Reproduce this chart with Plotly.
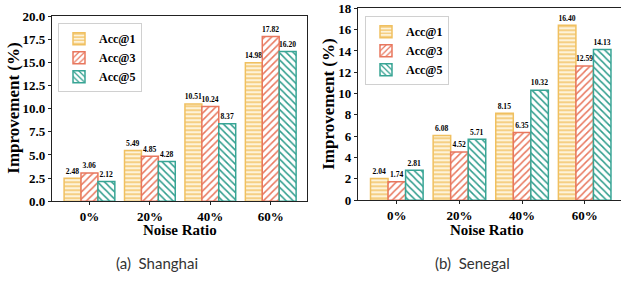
import plotly.graph_objects as go

categories = ["0%", "20%", "40%", "60%"]
series_names = ["Acc@1", "Acc@3", "Acc@5"]
shanghai_acc1 = [2.48, 5.49, 10.51, 14.98]
shanghai_acc3 = [3.06, 4.85, 10.24, 17.82]
shanghai_acc5 = [2.12, 4.28, 8.37, 16.20]
senegal_acc1 = [2.04, 6.08, 8.15, 16.40]
senegal_acc3 = [1.74, 4.52, 6.35, 12.59]
senegal_acc5 = [2.81, 5.71, 10.32, 14.13]
y_ticks_left = [0.0, 2.5, 5.0, 7.5, 10.0, 12.5, 15.0, 17.5, 20.0]
y_ticks_right = [0, 2, 4, 6, 8, 10, 12, 14, 16, 18]

SERIF = "Liberation Serif, Times New Roman, serif"
styles = [
    dict(edge="#F0C060", fg="#F3C66E", bg="#FDF3DA", shape="-", size=4, solidity=0.4),
    dict(edge="#E8775E", fg="#E8775E", bg="#FFFFFF", shape="/", size=5, solidity=0.3),
    dict(edge="#38A595", fg="#2E9C8C", bg="#FFFFFF", shape="\\", size=5, solidity=0.3),
]

fig = go.Figure()

def add_panel(values_list, xa, ya, legend):
    for name, vals, st in zip(series_names, values_list, styles):
        fig.add_trace(go.Bar(
            x=categories, y=vals, name=name, xaxis=xa, yaxis=ya, legend=legend,
            text=[f"{v:.2f}" for v in vals], textposition="outside",
            textfont=dict(family=SERIF, size=9, color="black", weight="bold"),
            cliponaxis=False,
            marker=dict(
                color=st["bg"],
                line=dict(color=st["edge"], width=1.5),
                pattern=dict(shape=st["shape"], fgcolor=st["fg"], bgcolor=st["bg"],
                             size=st["size"], solidity=st["solidity"], fillmode="replace"),
            ),
        ))

add_panel([shanghai_acc1, shanghai_acc3, shanghai_acc5], "x", "y", "legend")
add_panel([senegal_acc1, senegal_acc3, senegal_acc5], "x2", "y2", "legend2")

W, H = 621, 281
def px(x): return min(x / W, 1.0)
def py(y):
    ys = (y - 5.7) / 0.952
    return 1 - ys / H

axis_base = dict(showline=True, linecolor="#222", linewidth=1.2,
                 ticks="outside", ticklen=3, tickcolor="#222", showgrid=False, zeroline=False,
                 tickfont=dict(family=SERIF, size=13, color="black", weight="bold"))

legend_common = dict(xanchor="left", yanchor="top", bgcolor="white",
                     bordercolor="#d0d0d0", borderwidth=1,
                     font=dict(family=SERIF, size=12, color="black", weight="bold"),
                     itemwidth=30, tracegroupgap=0)

fig.update_layout(
    width=W, height=H, margin=dict(l=0, r=0, t=0, b=0),
    paper_bgcolor="white", plot_bgcolor="white",
    barmode="group", bargap=0.16, bargroupgap=0,
    uniformtext=dict(minsize=6, mode="show"),
    xaxis=dict(domain=[px(52), px(307)], range=[-0.62, 3.6], anchor="y", mirror=True, **axis_base),
    yaxis=dict(domain=[py(201), py(15)], range=[0, 20], tickvals=y_ticks_left,
               ticktext=[f"{v:.1f}" for v in y_ticks_left], anchor="x", mirror=True, **axis_base),
    xaxis2=dict(domain=[px(358), px(621)], range=[-0.62, 3.58], anchor="y2", mirror=True, **axis_base),
    yaxis2=dict(domain=[py(200), py(7)], range=[0, 18], tickvals=y_ticks_right,
                ticktext=[str(v) for v in y_ticks_right], anchor="x2", mirror=False, **axis_base),
    legend=dict(x=px(58), y=py(22), **legend_common),
    legend2=dict(x=px(365), y=py(15), **legend_common),
)

ann_font = dict(family=SERIF, color="black", weight="bold")
annotations = [
    dict(text="Noise Ratio", x=px(180), y=py(230), font=dict(size=15, **ann_font)),
    dict(text="Noise Ratio", x=px(487), y=py(230), font=dict(size=15, **ann_font)),
    dict(text="Improvement (%)", x=px(14), y=py(108), textangle=-90, font=dict(size=17, **ann_font)),
    dict(text="Improvement (%)", x=px(329), y=py(104), textangle=-90, font=dict(size=17, **ann_font)),
    dict(text="(a)  Shanghai", x=px(157), y=py(263), font=dict(family="Lato", size=15, color="#333")),
    dict(text="(b)  Senegal", x=px(472), y=py(263), font=dict(family="Lato", size=15, color="#333")),
]
for a in annotations:
    fig.add_annotation(xref="paper", yref="paper", showarrow=False,
                       xanchor="center", yanchor="middle", **a)

fig.write_html("out.html", config={"displayModeBar": False},
               post_script="document.body.style.margin='0';document.body.style.overflow='hidden';")
